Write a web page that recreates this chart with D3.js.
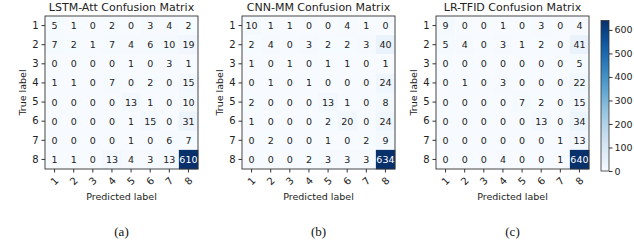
<!DOCTYPE html>
<html><head><meta charset="utf-8">
<script src="https://cdn.jsdelivr.net/npm/d3@7"></script>
<style>body{margin:0;background:#fff;} text{font-family:"DejaVu Sans",sans-serif;}</style>
</head><body>
<svg id="c" width="634" height="248"></svg>
<script>
const labels = ["1","2","3","4","5","6","7","8"];
const titles = ["LSTM-Att Confusion Matrix","CNN-MM Confusion Matrix","LR-TFID Confusion Matrix"];
const captions = ["(a)","(b)","(c)"];
const lstmAtt = [
 [5,1,0,2,0,3,4,2],
 [7,2,1,7,4,6,10,19],
 [0,0,0,0,1,0,3,1],
 [1,1,0,7,0,2,0,15],
 [0,0,0,0,13,1,0,10],
 [0,0,0,0,1,15,0,31],
 [0,0,0,0,1,0,6,7],
 [1,1,0,13,4,3,13,610]];
const cnnMM = [
 [10,1,1,0,0,4,1,0],
 [2,4,0,3,2,2,3,40],
 [1,0,1,0,1,1,0,1],
 [0,1,0,1,0,0,0,24],
 [2,0,0,0,13,1,0,8],
 [1,0,0,0,2,20,0,24],
 [0,2,0,0,1,0,2,9],
 [0,0,0,2,3,3,3,634]];
const lrTfid = [
 [9,0,0,1,0,3,0,4],
 [5,4,0,3,1,2,0,41],
 [0,0,0,0,0,0,0,5],
 [0,1,0,3,0,0,0,22],
 [0,0,0,0,7,2,0,15],
 [0,0,0,0,0,13,0,34],
 [0,0,0,0,0,0,1,13],
 [0,0,0,4,0,0,1,640]];
const colorbarTicks = [0,100,200,300,400,500,600];

const matrices = [lstmAtt, cnnMM, lrTfid];
const lefts = [45, 242, 436];
const mTop = 16, size = 153;
const svg = d3.select("#c");

matrices.forEach((m, k) => {
  const maxV = d3.max(m.flat());
  const color = d3.scaleSequential(d3.interpolateBlues).domain([0, maxV]);
  const x = d3.scaleBand().domain(labels).range([0, size]);
  const y = d3.scaleBand().domain(labels).range([0, size]);
  const g = svg.append("g").attr("transform", `translate(${lefts[k]},${mTop})`);
  m.forEach((row, i) => row.forEach((v, j) => {
    g.append("rect").attr("x", x(labels[j])).attr("y", y(labels[i]))
      .attr("width", x.bandwidth()+0.3).attr("height", y.bandwidth()+0.3)
      .attr("fill", color(v));
    g.append("text").attr("x", x(labels[j]) + x.bandwidth()/2).attr("y", y(labels[i]) + y.bandwidth()/2)
      .attr("text-anchor", "middle").attr("dominant-baseline", "central")
      .attr("font-size", 9.5).attr("fill", v > maxV/2 ? "#fff" : "#222").text(v);
  }));
  g.append("rect").attr("width", size).attr("height", size).attr("fill", "none").attr("stroke", "#333").attr("stroke-width", 0.9);
  const ya = g.append("g").call(d3.axisLeft(y).tickSize(3.5).tickPadding(3));
  ya.select(".domain").remove();
  ya.selectAll("text").attr("font-size", 10).attr("fill", "#222").attr("font-family", "DejaVu Sans");
  ya.selectAll("line").attr("stroke", "#333");
  const xa = g.append("g").attr("transform", `translate(0,${size})`).call(d3.axisBottom(x).tickSize(3.5).tickPadding(3));
  xa.select(".domain").remove();
  xa.selectAll("line").attr("stroke", "#333");
  xa.selectAll("text").attr("font-size", 10).attr("fill", "#222").attr("font-family", "DejaVu Sans")
    .attr("text-anchor", "middle").attr("dy", null).attr("dominant-baseline", "central").attr("y", 12)
    .attr("transform", "rotate(-45,0,12)");
  g.append("text").attr("x", size/2).attr("y", -5).attr("text-anchor", "middle")
    .attr("font-size", 11).attr("fill", "#222").text(titles[k]);
  g.append("text").attr("x", size/2).attr("y", size + 31).attr("text-anchor", "middle")
    .attr("font-size", 9.5).attr("fill", "#222").text("Predicted label");
  g.append("text").attr("transform", `translate(${-19},${size/2}) rotate(-90)`).attr("text-anchor", "middle")
    .attr("font-size", 9.5).attr("fill", "#222").text("True label");
  svg.append("text").attr("x", lefts[k] + size/2).attr("y", 236).attr("text-anchor", "middle")
    .style("font-family", "'Liberation Serif',serif")
    .attr("font-size", 13).attr("fill", "#111").text(captions[k]);
});

// colorbar
const cbMax = d3.max(lrTfid.flat());
const cbX = 601, cbW = 8, cbTop = 20.5, cbBot = 171;
const cbScale = d3.scaleLinear().domain([0, cbMax]).range([cbBot, cbTop]);
const defs = svg.append("defs");
const grad = defs.append("linearGradient").attr("id", "cb").attr("x1", 0).attr("y1", 1).attr("x2", 0).attr("y2", 0);
d3.range(0, 1.0001, 0.05).forEach(t => grad.append("stop").attr("offset", t).attr("stop-color", d3.interpolateBlues(t)));
svg.append("rect").attr("x", cbX).attr("y", cbTop).attr("width", cbW).attr("height", cbBot - cbTop)
  .attr("fill", "url(#cb)").attr("stroke", "#333").attr("stroke-width", 0.8);
const cba = svg.append("g").attr("transform", `translate(${cbX + cbW},0)`)
  .call(d3.axisRight(cbScale).tickValues(colorbarTicks).tickSize(3.5).tickPadding(2));
cba.select(".domain").remove();
cba.selectAll("line").attr("stroke", "#333");
cba.selectAll("text").attr("font-size", 9.5).attr("fill", "#222").attr("font-family", "DejaVu Sans");
</script>
</body></html>
